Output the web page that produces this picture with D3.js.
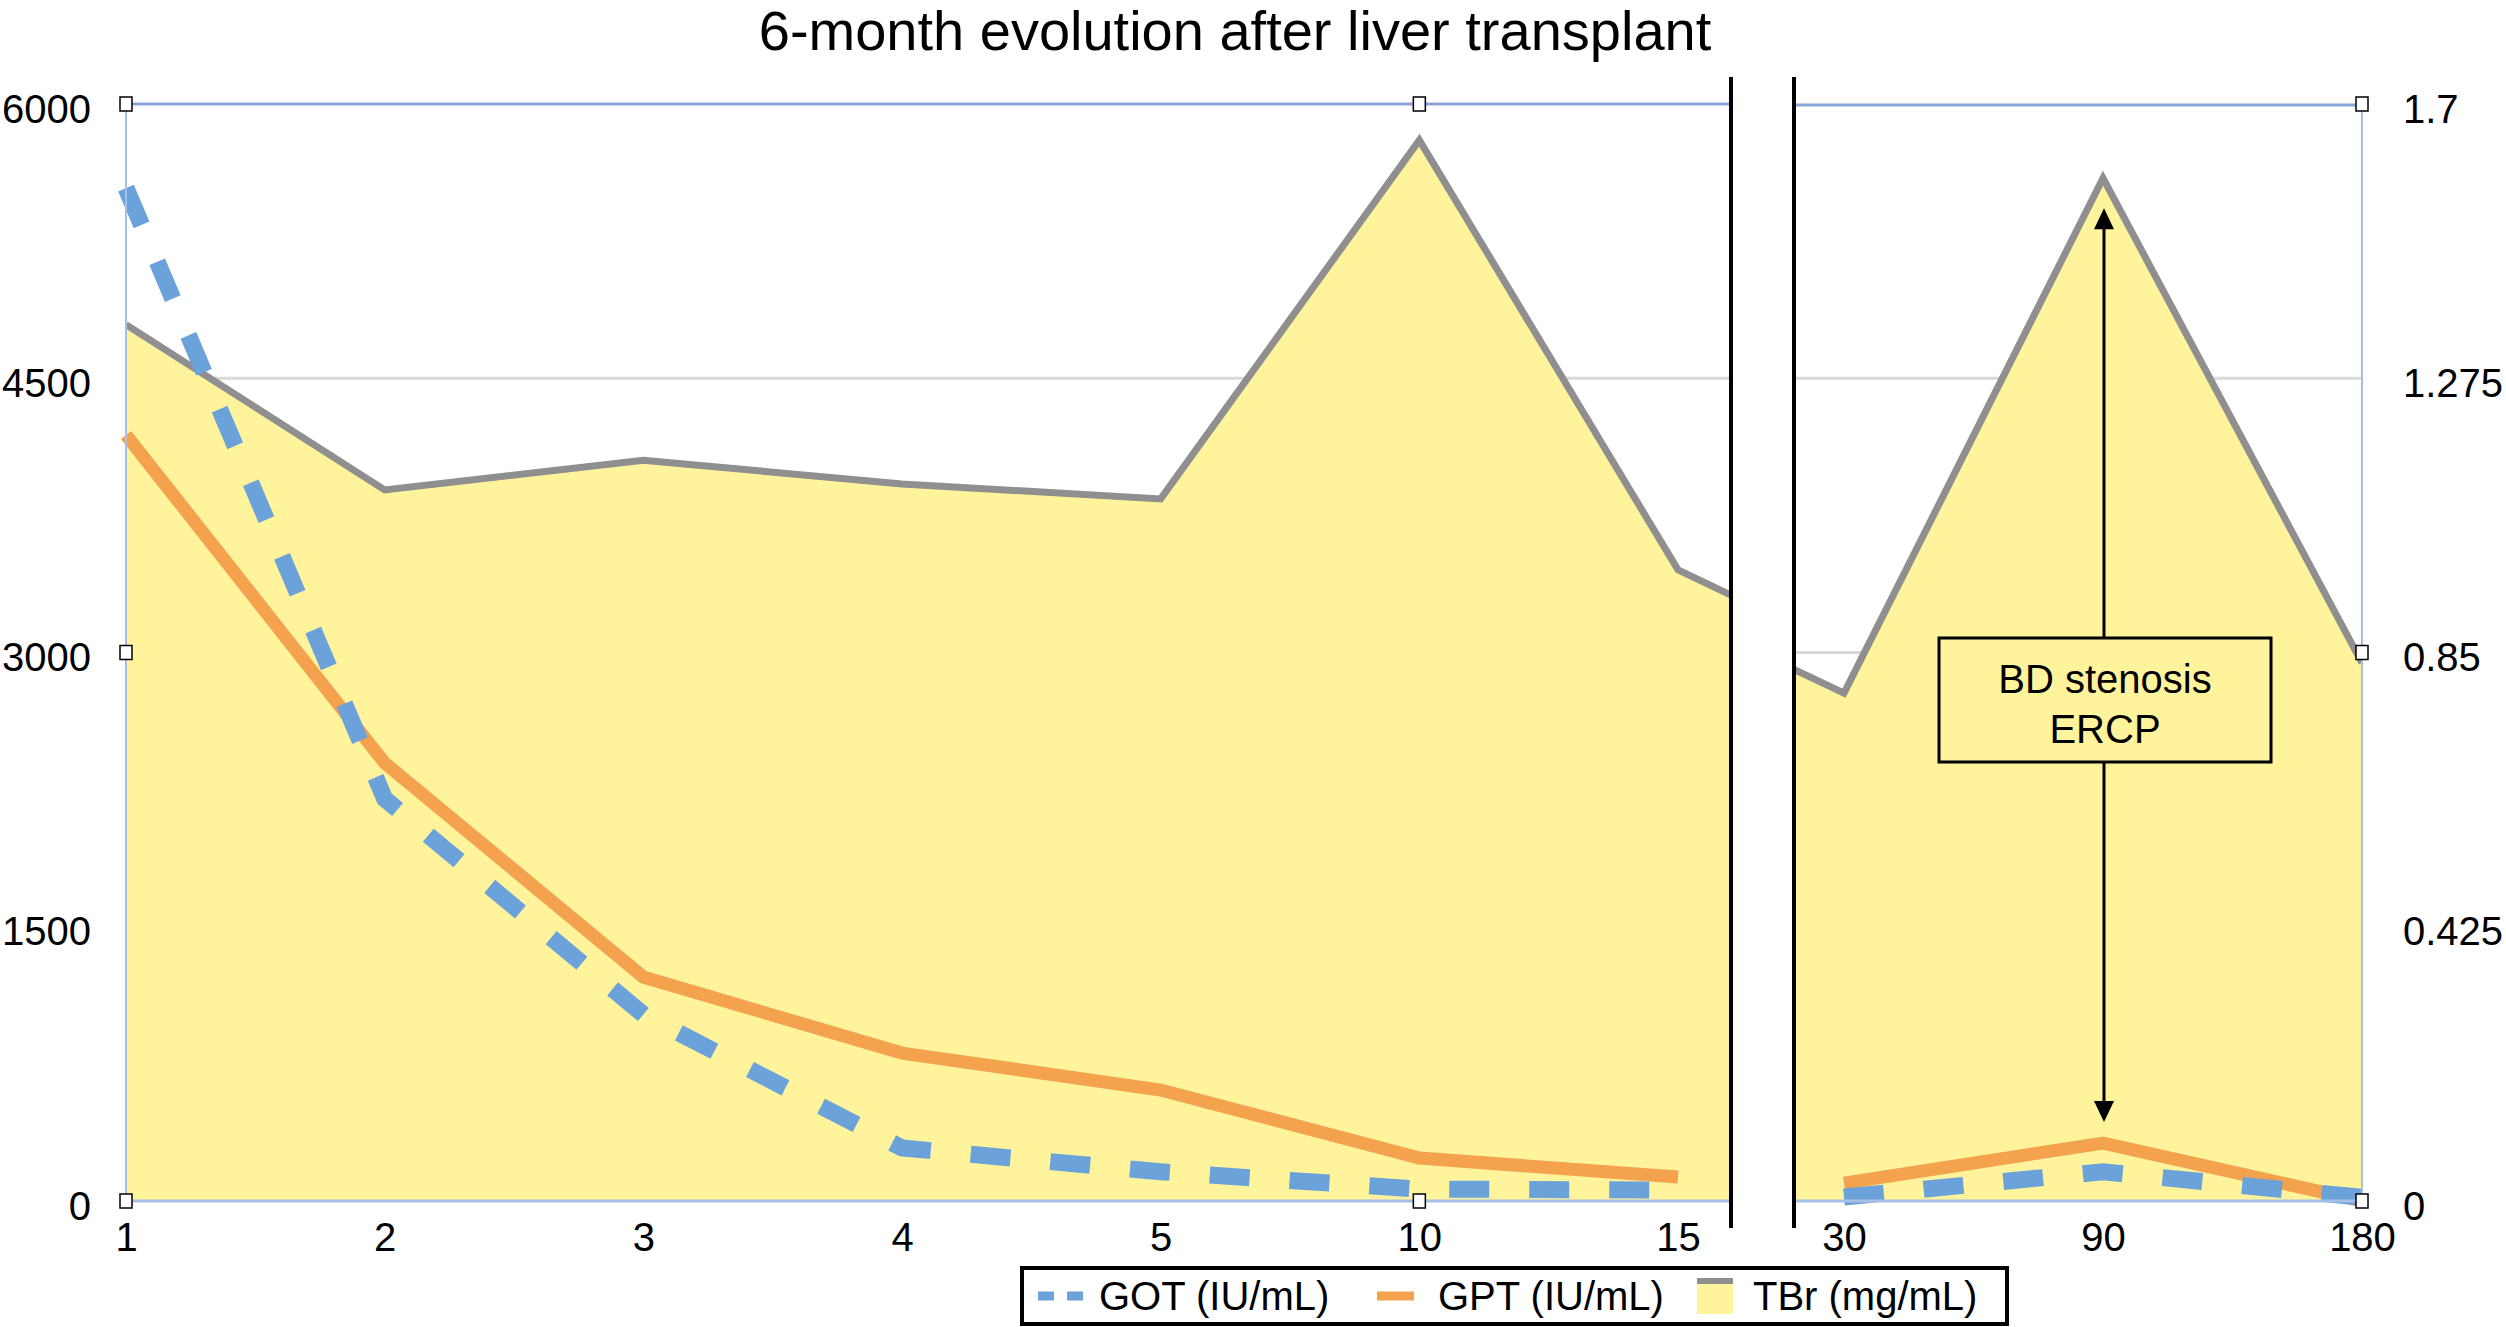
<!DOCTYPE html>
<html>
<head>
<meta charset="utf-8">
<script src="https://cdn.jsdelivr.net/npm/d3@7"></script>
<style>
  html, body { margin: 0; padding: 0; background: #ffffff; }
  svg { display: block; font-family: "Liberation Sans", Arial, Helvetica, sans-serif; }
</style>
</head>
<body>
<svg id="chart" width="2506" height="1327"></svg>
<script>
// ---------------- data ----------------
const days        = ["1", "2", "3", "4", "5", "10", "15", "30", "90", "180"];
const leftDays    = ["1", "2", "3", "4", "5", "10", "15"];
const rightDays   = ["30", "90", "180"];
const gotValues   = [5540, 2200, 1020, 290, 160, 65, 60, 22, 160, 20];   // IU/mL
const gptValues   = [4190, 2396, 1225, 809, 607, 235, 131, 98, 317, 0];  // IU/mL
const tbrValues   = [1.358, 1.102, 1.148, 1.111, 1.088, 1.644, 0.978, 0.787, 1.585, 0.834]; // mg/mL
const leftTicks   = [0, 1500, 3000, 4500, 6000];
const rightTicks  = [0, 0.425, 0.85, 1.275, 1.7];
const seriesNames = ["GOT (IU/mL)", "GPT (IU/mL)", "TBr (mg/mL)"];
const titleText   = "6-month evolution after liver transplant";
const noteLines   = ["BD stenosis", "ERCP"];

(function () {
// ---------------- layout ----------------
const C = {
  got: "#6ca2da", gpt: "#f4a24e", tbrLine: "#8f8f8f", tbrFill: "#fff49b",
  frame: "#8aa6d8", axis: "#a7bfe6", grid: "#d9d9d9"
};
const yTop = 104, yBot = 1201;
const L = { x0: 126, x1: 1731 };   // left panel
const R = { x0: 1794, x1: 2362 };  // right panel

const svg = d3.select("#chart");

const xL = d3.scalePoint().domain(leftDays).range([126, 1678]);
const xR = d3.scalePoint().domain(rightDays).range([1844, 2362]);
const step = xL.step();
const yL = d3.scaleLinear().domain([0, 6000]).range([yBot, yTop]);
const yR = d3.scaleLinear().domain([0, 1.7]).range([yBot, yTop]);

const rows = days.map((d, i) => ({ day: d, i, got: gotValues[i], gpt: gptValues[i], tbr: tbrValues[i] }));
const leftRows = rows.filter(r => leftDays.includes(r.day));
const rightRows = rows.filter(r => rightDays.includes(r.day));

// clip paths
const defs = svg.append("defs");
defs.append("clipPath").attr("id", "clipL").append("rect")
  .attr("x", L.x0).attr("y", 0).attr("width", L.x1 - L.x0).attr("height", yBot + 20);
defs.append("clipPath").attr("id", "clipR").append("rect")
  .attr("x", R.x0).attr("y", 0).attr("width", R.x1 - R.x0).attr("height", yBot + 20);

// ---------------- grid ----------------
[[L.x0, L.x1], [R.x0, R.x1]].forEach(([a, b]) => {
  svg.append("g").selectAll("line").data(leftTicks.filter(t => t > 0 && t < 6000)).join("line")
    .attr("x1", a).attr("x2", b).attr("y1", d => yL(d)).attr("y2", d => yL(d))
    .attr("stroke", C.grid).attr("stroke-width", 3);
});

// ---------------- TBr area ----------------
const leftArea = leftRows.map(r => ({ x: xL(r.day), v: r.tbr }))
  .concat([{ x: xL("15") + step, v: rightRows[0].tbr }]);
const rightArea = [{ x: xR("30") - step, v: leftRows[leftRows.length - 1].tbr }]
  .concat(rightRows.map(r => ({ x: xR(r.day), v: r.tbr })));

const area = d3.area().x(d => d.x).y0(yBot).y1(d => yR(d.v));
const tline = d3.line().x(d => d.x).y(d => yR(d.v));

[[leftArea, "clipL"], [rightArea, "clipR"]].forEach(([pts, clip]) => {
  const g = svg.append("g").attr("clip-path", `url(#${clip})`);
  g.append("path").datum(pts).attr("d", area).attr("fill", C.tbrFill);
  g.append("path").datum(pts).attr("d", tline).attr("fill", "none")
    .attr("stroke", C.tbrLine).attr("stroke-width", 7).attr("stroke-linejoin", "miter");
});

// ---------------- GPT / GOT lines ----------------
const lineL = key => d3.line().x(d => xL(d.day)).y(d => yL(d[key]));
const lineR = key => d3.line().x(d => xR(d.day)).y(d => yL(d[key]));

[["gpt", C.gpt, 13, null], ["got", C.got, 17, "40,40"]].forEach(([key, col, w, dash]) => {
  [[leftRows, lineL(key)], [rightRows, lineR(key)]].forEach(([data, gen]) => {
    svg.append("path").datum(data).attr("d", gen)
      .attr("fill", "none").attr("stroke", col).attr("stroke-width", w)
      .attr("stroke-linejoin", "miter").attr("stroke-linecap", "butt")
      .attr("stroke-dasharray", dash);
  });
});

// ---------------- frame ----------------
svg.append("line").attr("x1", L.x0).attr("x2", L.x1).attr("y1", yTop).attr("y2", yTop)
  .attr("stroke", C.frame).attr("stroke-width", 3);
svg.append("line").attr("x1", R.x0).attr("x2", R.x1).attr("y1", yTop + 1).attr("y2", yTop + 1)
  .attr("stroke", C.frame).attr("stroke-width", 3);
svg.append("line").attr("x1", L.x0).attr("x2", L.x0).attr("y1", yTop).attr("y2", yBot)
  .attr("stroke", C.axis).attr("stroke-width", 2);
svg.append("line").attr("x1", R.x1).attr("x2", R.x1).attr("y1", yTop).attr("y2", yBot)
  .attr("stroke", C.axis).attr("stroke-width", 2);
[[L.x0, L.x1], [R.x0, R.x1]].forEach(([a, b]) => {
  svg.append("line").attr("x1", a).attr("x2", b).attr("y1", yBot).attr("y2", yBot)
    .attr("stroke", C.axis).attr("stroke-width", 3);
});

// ---------------- axes ----------------
const fontSize = 40;
const ga = svg.append("g").attr("transform", `translate(${L.x0},0)`)
  .call(d3.axisLeft(yL).tickValues(leftTicks).tickSize(0).tickPadding(35).tickFormat(d => String(d)));
const gr = svg.append("g").attr("transform", `translate(${R.x1},0)`)
  .call(d3.axisRight(yR).tickValues(rightTicks).tickSize(0).tickPadding(41).tickFormat(d => String(d)));
const gbl = svg.append("g").attr("transform", `translate(0,${yBot})`)
  .call(d3.axisBottom(xL).tickSize(0).tickPadding(22));
const gbr = svg.append("g").attr("transform", `translate(0,${yBot})`)
  .call(d3.axisBottom(xR).tickSize(0).tickPadding(22));
[ga, gr, gbl, gbr].forEach(g => {
  g.select(".domain").remove();
  g.selectAll("text").attr("font-size", fontSize).attr("fill", "#000")
    .attr("font-family", '"Liberation Sans", Arial, Helvetica, sans-serif');
});
[ga, gr].forEach(g => g.selectAll("text").attr("dy", "0.45em"));

// ---------------- selection handles ----------------
const midX = xL("10");
const handles = [
  [L.x0, yL(6000)], [midX, yL(6000)], [R.x1, yR(1.7)],
  [L.x0, yL(3000)], [R.x1, yR(0.85)],
  [L.x0, yL(0)], [midX, yL(0)], [R.x1, yR(0)]
];
svg.append("g").selectAll("rect").data(handles).join("rect")
  .attr("x", d => d[0] - 6).attr("y", d => d[1] - 7).attr("width", 12).attr("height", 14)
  .attr("fill", "#fff").attr("stroke", "#000").attr("stroke-width", 1.5);

// ---------------- axis break lines ----------------
[L.x1, R.x0].forEach(x => {
  svg.append("line").attr("x1", x).attr("x2", x).attr("y1", 77).attr("y2", 1228)
    .attr("stroke", "#000").attr("stroke-width", 4);
});

// ---------------- annotation ----------------
const ax = xR("90") + 1;
const boxTop = 638, boxBot = 762, boxL = 1939, boxR = 2271;
const arrowTop = yR(tbrValues[8]) + 30;
const arrowBot = yL(gptValues[8]) - 21;
svg.append("line").attr("x1", ax).attr("x2", ax).attr("y1", arrowTop + 18).attr("y2", boxTop)
  .attr("stroke", "#000").attr("stroke-width", 3);
svg.append("line").attr("x1", ax).attr("x2", ax).attr("y1", boxBot).attr("y2", arrowBot - 18)
  .attr("stroke", "#000").attr("stroke-width", 3);
svg.append("path").attr("d", `M${ax},${arrowTop} L${ax - 10},${arrowTop + 21} L${ax + 10},${arrowTop + 21} Z`).attr("fill", "#000");
svg.append("path").attr("d", `M${ax},${arrowBot} L${ax - 10},${arrowBot - 21} L${ax + 10},${arrowBot - 21} Z`).attr("fill", "#000");
svg.append("rect").attr("x", boxL).attr("y", boxTop).attr("width", boxR - boxL).attr("height", boxBot - boxTop)
  .attr("fill", C.tbrFill).attr("stroke", "#000").attr("stroke-width", 3);
svg.append("g").selectAll("text").data(noteLines).join("text")
  .attr("x", (boxL + boxR) / 2).attr("y", (d, i) => 693 + i * 50)
  .attr("text-anchor", "middle").attr("font-size", 40).attr("fill", "#000").text(d => d);

// ---------------- title ----------------
svg.append("text").attr("x", 1235).attr("y", 50).attr("text-anchor", "middle")
  .attr("font-size", 56).attr("fill", "#000").text(titleText);

// ---------------- legend ----------------
const lg = svg.append("g");
lg.append("rect").attr("x", 1022).attr("y", 1268).attr("width", 985).attr("height", 56)
  .attr("fill", "#fff").attr("stroke", "#000").attr("stroke-width", 4);
const legItems = [
  { name: seriesNames[0], sx: 1038, tx: 1099, kind: "got" },
  { name: seriesNames[1], sx: 1377, tx: 1438, kind: "gpt" },
  { name: seriesNames[2], sx: 1697, tx: 1753, kind: "tbr" }
];
const ly = 1296;
legItems.forEach(it => {
  if (it.kind === "got") {
    lg.append("line").attr("x1", it.sx).attr("x2", it.sx + 45).attr("y1", ly).attr("y2", ly)
      .attr("stroke", C.got).attr("stroke-width", 9).attr("stroke-dasharray", "16,13");
  } else if (it.kind === "gpt") {
    lg.append("line").attr("x1", it.sx).attr("x2", it.sx + 37).attr("y1", ly).attr("y2", ly)
      .attr("stroke", C.gpt).attr("stroke-width", 9);
  } else {
    lg.append("rect").attr("x", it.sx).attr("y", 1278).attr("width", 36).attr("height", 36).attr("fill", C.tbrFill);
    lg.append("rect").attr("x", it.sx).attr("y", 1278).attr("width", 36).attr("height", 6).attr("fill", C.tbrLine);
  }
  lg.append("text").attr("x", it.tx).attr("y", ly + 14).attr("font-size", 40).attr("fill", "#000").text(it.name);
});
})();
</script>
</body>
</html>
